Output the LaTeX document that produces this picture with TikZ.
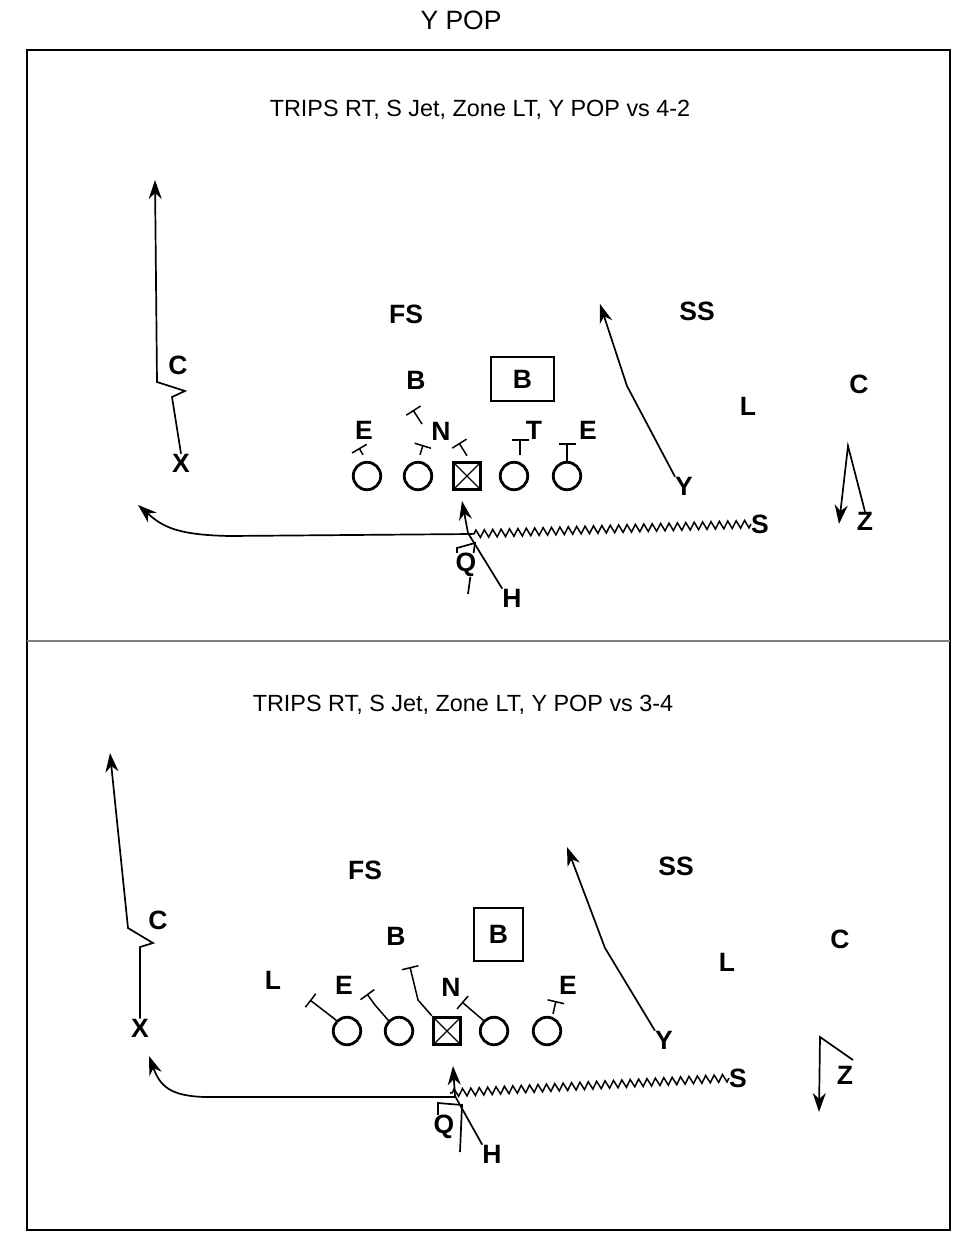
\documentclass[tikz,border=0pt]{standalone}
\usepackage{fontspec}
\setmainfont{Liberation Sans}
\usetikzlibrary{arrows.meta,decorations.pathmorphing}
\tikzset{
  lbl/.style={inner sep=0pt, font=\bfseries\fontsize{26.5}{26.5}\selectfont},
  ttl/.style={inner sep=0pt, font=\fontsize{26.5}{26.5}\selectfont},
  sub/.style={inner sep=0pt, font=\fontsize{23.4}{24}\selectfont},
  lineman/.style={circle, draw, line width=2.8pt, minimum size=27.5pt, inner sep=0pt},
  ctr/.style={rectangle, draw, line width=3.4pt, minimum size=27pt, inner sep=0pt,
    path picture={\draw[line width=1.3pt] (path picture bounding box.north west) -- (path picture bounding box.south east)
      (path picture bounding box.north east) -- (path picture bounding box.south west);}},
  boxb/.style={rectangle, draw, line width=1.5pt, inner sep=0pt, font=\bfseries\fontsize{26.5}{26.5}\selectfont},
  route/.style={line width=1.7pt, -{Stealth[length=19pt,width=13pt,inset=6pt]}},
  plain/.style={line width=1.7pt},
  blk/.style={line width=1.5pt, -{Bar[width=17pt,line width=1.5pt]}},
  zig/.style={line width=1.5pt, decorate, decoration={zigzag, segment length=8.4pt, amplitude=3.8pt}},
  frame/.style={line width=1.7pt}
}
\begin{document}
\begin{tikzpicture}[x=1pt,y=-1pt]
\useasboundingbox (0,0) rectangle (975,1242);
% frame
\node[ttl] (title) at (461,20) {Y POP};
\draw[frame] (27,50) rectangle (950,1230);
\draw[line width=2.5pt, color=black!50] (27,641) -- (950,641);

% ================= TOP =================
\node[sub] (st) at (480,110) {TRIPS RT, S Jet, Zone LT, Y POP vs 4-2};
\node[lbl] (tFS) at (406,314) {FS};
\node[lbl] (tSS) at (697,311) {SS};
\node[lbl] (tB) at (416,380) {B};
\node[boxb, minimum width=63pt, minimum height=44pt] (tBB) at (522.5,379) {B};
\node[lbl] (tL) at (748,406) {L};
\node[lbl] (tCR) at (859,384) {C};
\node[lbl] (tCL) at (178,365) {C};
\node[lbl] (tX) at (181,463) {X};
\node[lbl] (tE1) at (364,430) {E};
\node[lbl] (tN) at (441,431) {N};
\node[lbl] (tT) at (534,430) {T};
\node[lbl] (tE2) at (588,430) {E};
\node[lbl] (tY) at (684,486) {Y};
\node[lbl] (tS) at (760,524) {S};
\node[lbl] (tZ) at (865,521) {Z};
\node[lbl] (tH) at (512,598) {H};

\node[lineman] (t1) at (367,476) {};
\node[lineman] (t2) at (418,476) {};
\node[ctr] (t3) at (467,476) {};
\node[lineman] (t4) at (514,476) {};
\node[lineman] (t5) at (567,476) {};

% blocks
\draw[blk] ([shift={(-4,-6)}]t1.north) -- (359,448);
\draw[blk] ([shift={(2,-6)}]t2.north) -- (423,445);
\coordinate (tbf) at (422,424);
\draw[blk] (tbf) -- (413,410);
\draw[blk] ([shift={(0,-5)}]t3.north) -- (459,443);
\draw[blk] ([shift={(6,-6)}]t4.north) -- (520,439);
\draw[blk] (t5.north) -- (567,443);

% X route
\coordinate (tx1) at (172,397);
\coordinate (tx2) at (185,391);
\coordinate (tx3) at (157,382);
\coordinate (txe) at (155,180);
\draw[route] (tX.north) -- (tx1) -- (tx2) -- (tx3) -- (txe);

% Y route
\coordinate (ty1) at (627,386);
\coordinate (tye) at (600,304);
\draw[route] (tY.north west) -- (ty1) -- (tye);

% Z route
\coordinate (tz1) at (848,446);
\coordinate (tze) at (839,524);
\draw[route] (tZ.north) -- (tz1) -- (tze);

% S jet
\coordinate (tj) at (472,534);
\coordinate (tj2) at (230,536);
\coordinate (tje) at (138,505);
\draw[zig] (tS.west) -- (tj);
\draw[route] (tj) -- (tj2) .. controls (175,535) and (162,526) .. (tje);

% H route
\coordinate (th1) at (468,533);
\coordinate (the) at (462,501);
\draw[route] (tH.north west) -- (th1) -- (the);

% Q
\coordinate (tq0) at (468,594);
\coordinate (tq1) at (475,543);
\coordinate (tq2) at (457,548);
\coordinate (tq3) at (457,556);
\draw[plain] (tq0) -- (tq1) -- (tq2) -- (tq3);
\node[lbl, fill=white, inner sep=0.5pt] (tQ) at (466,565) {Q};

% ================= BOTTOM =================
\node[sub] (sb) at (463,705) {TRIPS RT, S Jet, Zone LT, Y POP vs 3-4};
\node[lbl] (bFS) at (365,870) {FS};
\node[lbl] (bSS) at (676,866) {SS};
\node[lbl] (bB) at (396,936) {B};
\node[boxb, minimum width=49pt, minimum height=53pt] (bBB) at (498.5,934.5) {B};
\node[lbl] (bL) at (727,962) {L};
\node[lbl] (bCR) at (840,939) {C};
\node[lbl] (bCL) at (158,920) {C};
\node[lbl] (bX) at (140,1028) {X};
\node[lbl] (bL2) at (273,980) {L};
\node[lbl] (bE1) at (344,985) {E};
\node[lbl] (bN) at (451,987) {N};
\node[lbl] (bE2) at (568,985) {E};
\node[lbl] (bY) at (664,1040) {Y};
\node[lbl] (bS) at (738,1078) {S};
\node[lbl] (bZ) at (845,1075) {Z};
\node[lbl] (bH) at (492,1154) {H};

\node[lineman] (b1) at (347,1031) {};
\node[lineman] (b2) at (399,1031) {};
\node[ctr] (b3) at (447,1031) {};
\node[lineman] (b4) at (494,1031) {};
\node[lineman] (b5) at (547,1031) {};

% blocks
\draw[blk] (b1.north west) -- (310,1000);
\coordinate (bb2) at (375,1005);
\draw[blk] (b2.north west) -- (bb2) -- (367,994);
\coordinate (bb3) at (418,1000);
\draw[blk] (b3.north west) -- (bb3) -- (410,967);
\draw[blk] (b4.north west) -- (462,1002);
\draw[blk] ([shift={(6,-2)}]b5.north) -- (556,1001);

% X route
\coordinate (bx1) at (140,947);
\coordinate (bx2) at (153,943);
\coordinate (bx3) at (128,928);
\coordinate (bxe) at (110,753);
\draw[route] (bX.north) -- (bx1) -- (bx2) -- (bx3) -- (bxe);

% Y route
\coordinate (by1) at (605,948);
\coordinate (bye) at (567,847);
\draw[route] (bY.north west) -- (by1) -- (bye);

% Z route
\coordinate (bz0) at (853,1060);
\coordinate (bz1) at (820,1037);
\coordinate (bze) at (819,1112);
\draw[route] (bz0) -- (bz1) -- (bze);

% S jet
\coordinate (bj) at (450,1093);
\coordinate (bj2) at (205,1097);
\coordinate (bje) at (149,1056);
\draw[zig] (bS.west) -- (bj);
\draw[route] (455,1097) -- (bj2) .. controls (170,1096) and (160,1086) .. (bje);

% H route
\coordinate (bh1) at (455,1096);
\coordinate (bhe) at (453,1066);
\draw[route] (bH.north west) -- (bh1) -- (bhe);

% Q
\coordinate (bq0) at (460,1152);
\coordinate (bq1) at (462,1105);
\coordinate (bq2) at (438,1103);
\coordinate (bq3) at (438,1115);
\draw[plain] (bq0) -- (bq1) -- (bq2) -- (bq3);
\node[lbl, fill=white, inner sep=0.5pt] (bQ) at (444,1127) {Q};
\end{tikzpicture}
\end{document}
